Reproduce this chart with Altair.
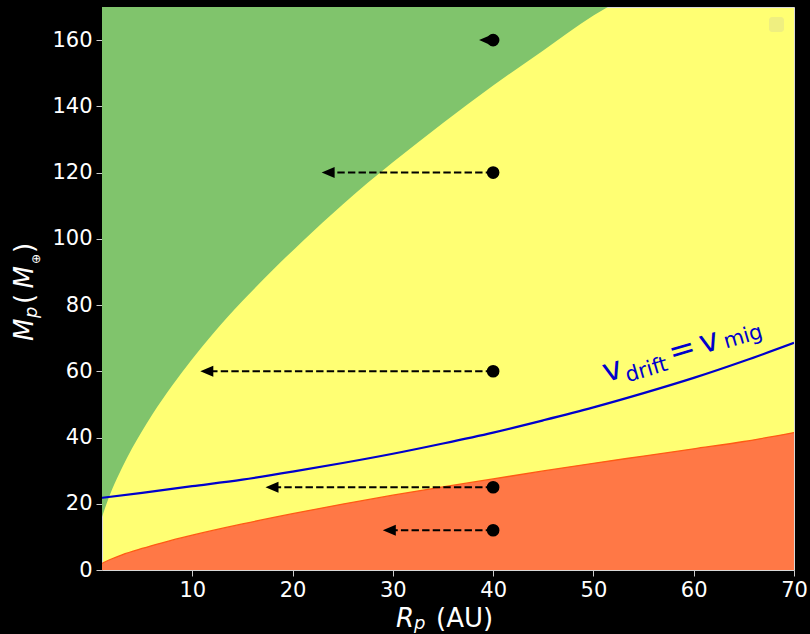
import altair as alt
import pandas as pd

# ---- data ----
R_green = [1, 1.5, 2, 2.5, 3, 4, 5, 6, 8, 10, 12, 15, 18, 21, 25, 30, 35, 40, 45, 50, 52]
M_green = [16.0, 20.4, 24.3, 27.7, 30.9, 36.8, 42.0, 46.9, 55.7, 63.7, 71.1, 81.2, 90.5, 99.3, 110.4, 123.1, 135.0, 146.3, 156.9, 167.4, 171.0]

R_red = [1, 2, 3, 5, 7, 10, 15, 20, 25, 30, 35, 40, 45, 50, 55, 60, 65, 70]
M_red = [2.0, 3.4, 4.6, 6.5, 8.2, 10.5, 13.9, 17.0, 19.9, 22.6, 25.1, 27.5, 29.9, 32.2, 34.4, 36.6, 38.8, 41.5]

R_blue = [1, 5, 10, 15, 20, 25, 30, 35, 40, 45, 50, 55, 60, 65, 70]
M_blue = [21.8, 23.3, 25.3, 27.3, 29.7, 32.3, 35.1, 38.2, 41.5, 45.2, 49.1, 53.4, 58.0, 63.1, 68.6]

start_R = [40, 40, 40, 40, 40]
start_M = [160, 120, 60, 25, 12]
tip_R = [38.6, 22.9, 10.8, 17.3, 29.0]

x_ticks = [10, 20, 30, 40, 50, 60, 70]
y_ticks = [0, 20, 40, 60, 80, 100, 120, 140, 160]

# curve label pieces (data coordinates)
lab_text = ["v", "drift", "=", "v", "mig"]
lab_R = [51.25, 53.42, 57.84, 60.89, 63.21]
lab_M = [56.68, 56.72, 62.43, 65.28, 66.86]
lab_size = [32, 21, 32, 32, 21]

GREEN = "#80c46c"
YELLOW = "#ffff73"
ORANGE = "#ff7846"
BLUE = "#0000cc"

green_df = pd.DataFrame({"R": R_green, "M": M_green})
red_df = pd.DataFrame({"R": R_red, "M": M_red})
blue_df = pd.DataFrame({"R": R_blue, "M": M_blue})
arrow_df = pd.DataFrame({"R0": start_R, "M": start_M, "tip": tip_R})
lab_df = pd.DataFrame({"t": lab_text, "R": lab_R, "M": lab_M, "s": lab_size})

xs = alt.Scale(domain=[1, 70], nice=False, zero=False)
ys = alt.Scale(domain=[0, 170], nice=False, zero=False)

xax = alt.Axis(values=x_ticks, title=None, grid=False, domain=False,
               labelColor="white", labelFontSize=21, labelFont="DejaVu Sans",
               tickColor="#cccccc", tickSize=6, labelPadding=3, labelFlush=False)
yax = alt.Axis(values=y_ticks, title=None, grid=False, domain=False,
               labelColor="white", labelFontSize=21, labelFont="DejaVu Sans",
               tickColor="#cccccc", tickSize=6, labelPadding=4, labelFlush=False)

green = alt.Chart(green_df).mark_area(color=GREEN, clip=True, interpolate="monotone").encode(
    x=alt.X("R:Q", scale=xs, axis=xax),
    y=alt.Y("M:Q", scale=ys, axis=yax),
    y2=alt.datum(170),
)

red = alt.Chart(red_df).mark_area(color=ORANGE, clip=True, interpolate="monotone").encode(
    x=alt.X("R:Q", scale=xs),
    y=alt.Y("M:Q", scale=ys),
    y2=alt.datum(0),
)
red_edge = alt.Chart(red_df).mark_line(color="#ff5a14", strokeWidth=1.3, clip=True,
                                       interpolate="monotone").encode(
    x=alt.X("R:Q", scale=xs),
    y=alt.Y("M:Q", scale=ys),
)
blue = alt.Chart(blue_df).mark_line(color=BLUE, strokeWidth=2.2, clip=True,
                                    interpolate="monotone").encode(
    x=alt.X("R:Q", scale=xs),
    y=alt.Y("M:Q", scale=ys),
)

shafts = alt.Chart(arrow_df).transform_calculate(end="datum.tip + 0.8").mark_rule(
    color="black", strokeWidth=2, strokeDash=[7.4, 3.2]
).encode(
    x=alt.X("R0:Q", scale=xs),
    x2="end:Q",
    y=alt.Y("M:Q", scale=ys),
)
heads = alt.Chart(arrow_df).mark_point(
    shape="M0,0L2,-0.85L2,0.85Z", filled=True, color="black", opacity=1, size=169
).encode(
    x=alt.X("tip:Q", scale=xs),
    y=alt.Y("M:Q", scale=ys),
)
dots = alt.Chart(arrow_df).mark_circle(color="black", opacity=1, size=160).encode(
    x=alt.X("R0:Q", scale=xs),
    y=alt.Y("M:Q", scale=ys),
)

label = alt.Chart(lab_df).mark_text(
    color=BLUE, font="DejaVu Sans", angle=343.6, align="left", baseline="alphabetic"
).encode(
    x=alt.X("R:Q", scale=xs),
    y=alt.Y("M:Q", scale=ys),
    text="t:N",
    size=alt.Size("s:Q", scale=None),
)

legend_box = alt.Chart(pd.DataFrame({"a": [0]})).mark_rect(
    color="#efef80", cornerRadius=3
).encode(x=alt.value(667), x2=alt.value(682), y=alt.value(10), y2=alt.value(25))

# axis titles built from pieces (pixel positions relative to plot origin)
OX, OY = 102, 7
t_text = ["R", "p", "(AU)", "M", "p", "(", "M", "⊕", ")"]
t_px = [396, 414, 436, 33.3, 36.5, 33.3, 33.3, 40, 33.3]
t_py = [626.5, 629, 626.5, 341, 318, 304, 288.5, 264, 253]
t_size = [26, 18, 26, 26, 18, 26, 26, 12, 26]
t_angle = [0, 0, 0, 270, 270, 270, 270, 270, 270]
t_italic = [True, True, False, True, True, False, True, False, False]
tdf = pd.DataFrame({"t": t_text, "px": [p - OX for p in t_px], "py": [p - OY for p in t_py],
                    "s": t_size, "a": t_angle, "it": t_italic})

def title_layer(italic):
    return alt.Chart(tdf[tdf["it"] == italic]).mark_text(
        color="white", font="DejaVu Sans", align="left", baseline="alphabetic",
        fontStyle="italic" if italic else "normal"
    ).encode(
        x=alt.X("px:Q", scale=None),
        y=alt.Y("py:Q", scale=None),
        text="t:N",
        size=alt.Size("s:Q", scale=None),
        angle=alt.Angle("a:Q", scale=None),
    )

chart = alt.layer(
    green, red, red_edge, blue, shafts, heads, dots, label, legend_box,
    title_layer(True), title_layer(False)
).properties(
    width=692, height=563,
    autosize=alt.AutoSizeParams(type="none"),
    padding={"left": 102, "top": 7, "right": 16, "bottom": 64},
    background="black",
).configure_view(
    fill=YELLOW, stroke="#d8d8d8", strokeWidth=1
)

chart.save("out.html", embed_options={"renderer": "svg", "actions": False})
